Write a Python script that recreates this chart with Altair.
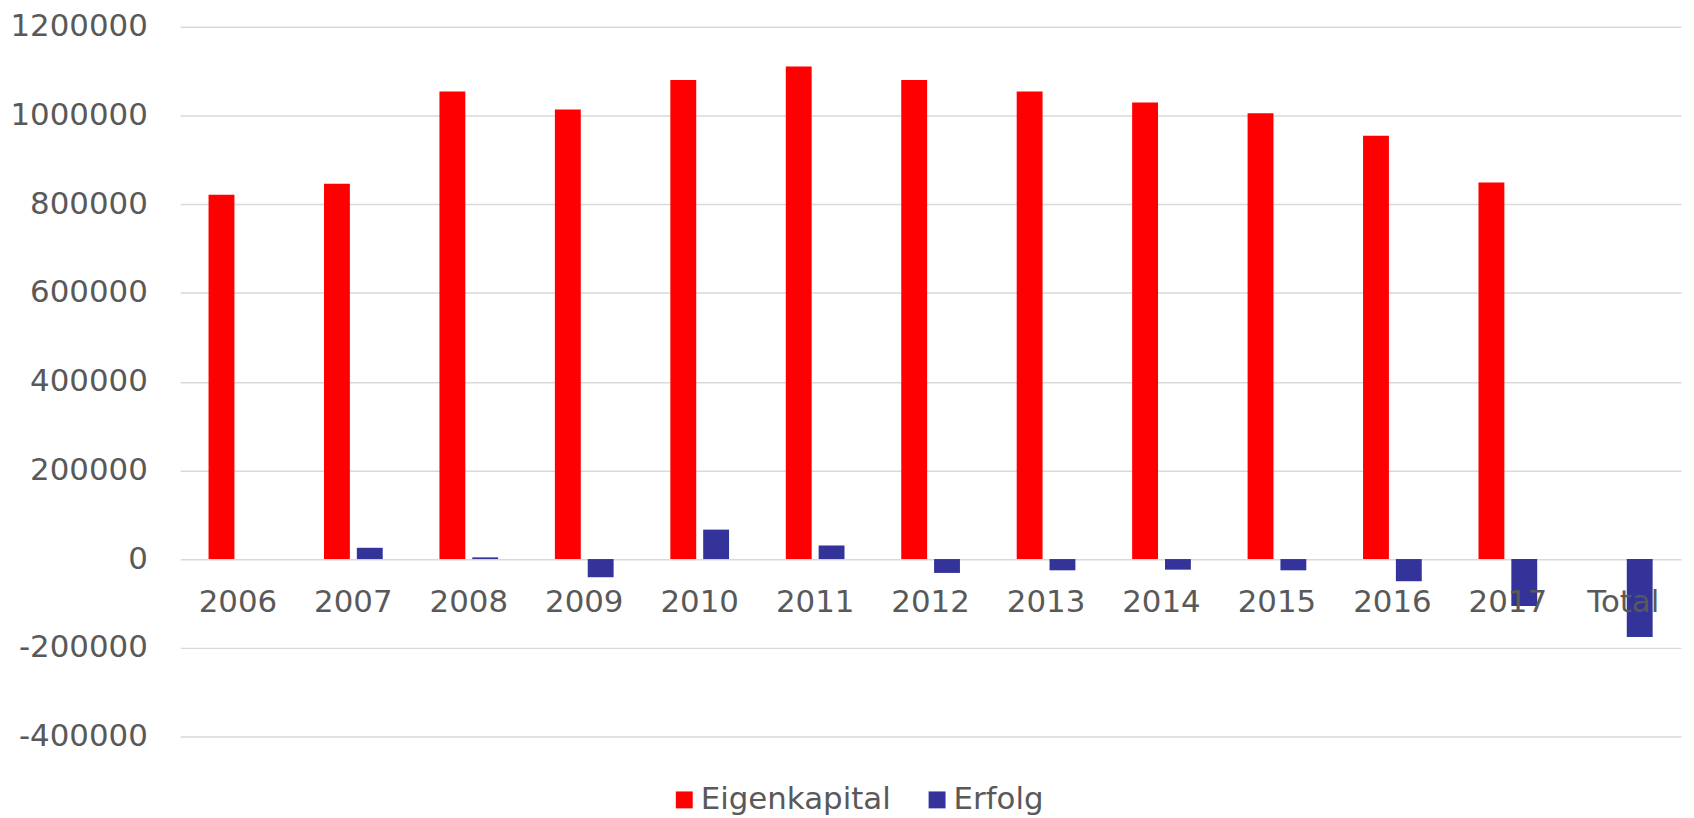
import altair as alt
import pandas as pd

years = ["2006", "2007", "2008", "2009", "2010", "2011", "2012", "2013",
         "2014", "2015", "2016", "2017", "Total"]
eigenkapital = [821500, 846000, 1054000, 1013500, 1080000, 1110500, 1080000,
                1054000, 1029500, 1005000, 954500, 849000, None]
erfolg = [None, 25400, 3800, -41000, 66400, 30600, -31300, -25400, -23900,
          -25400, -50000, -106000, -176000]
series = ["Eigenkapital", "Erfolg"]
colors = ["#FF0000", "#333399"]
y_ticks = [-400000, -200000, 0, 200000, 400000, 600000, 800000, 1000000, 1200000]

rows = []
for i, yr in enumerate(years):
    if eigenkapital[i] is not None:
        rows.append({"Jahr": yr, "Serie": series[0], "Wert": eigenkapital[i]})
    if erfolg[i] is not None:
        rows.append({"Jahr": yr, "Serie": series[1], "Wert": erfolg[i]})
df = pd.DataFrame(rows)

FONT = "DejaVu Sans"
GRAY = "#595959"
FS = 31

chart = alt.Chart(df).mark_bar(strokeWidth=0).encode(
    x=alt.X("Jahr:N", sort=years,
            scale=alt.Scale(paddingInner=0, paddingOuter=0),
            axis=alt.Axis(title=None, labelAngle=0, domain=False, ticks=False,
                          labelFontSize=FS, labelColor=GRAY, labelFont=FONT,
                          offset=-178, labelPadding=28, zindex=1)),
    xOffset=alt.XOffset("Serie:N", sort=series,
                        scale=alt.Scale(paddingInner=0.212, paddingOuter=0.864)),
    y=alt.Y("Wert:Q",
            scale=alt.Scale(domain=[-400000, 1200000], nice=False, zero=False),
            axis=alt.Axis(title=None, values=y_ticks, domain=False,
                          labelExpr="datum.value < 0 ? '-' + format(-datum.value, 'd') : format(datum.value, 'd')",
                          ticks=False, labelFontSize=FS, labelColor=GRAY,
                          labelFont=FONT, labelPadding=33, gridColor="#D9D9D9",
                          gridWidth=1.5, zindex=0)),
    color=alt.Color("Serie:N", sort=series,
                    scale=alt.Scale(domain=series, range=colors),
                    legend=alt.Legend(title=None, orient="none", direction="horizontal",
                                      legendX=491, legendY=761, symbolType="square",
                                      symbolSize=289, symbolStrokeWidth=0,
                                      labelFontSize=FS, labelColor=GRAY, labelFont=FONT,
                                      labelLimit=0, labelOffset=1, columnPadding=30)),
).properties(
    width=1508, height=713,
    padding={"left": 173, "top": 17, "right": 5, "bottom": 80},
    autosize=alt.AutoSizeParams(type="none"),
).configure_view(stroke=None)

chart.save("out.html", embed_options={"renderer": "svg", "actions": False})
